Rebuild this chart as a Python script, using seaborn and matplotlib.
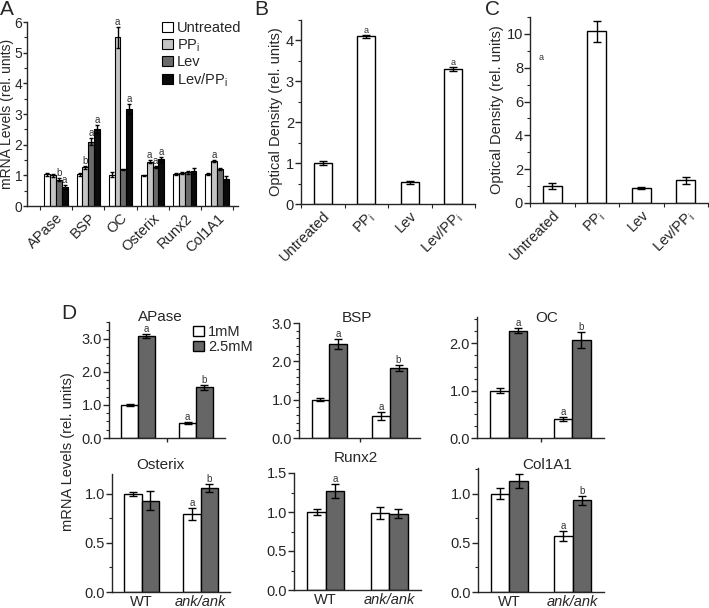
import matplotlib
matplotlib.use("Agg")
import matplotlib.pyplot as plt
from matplotlib.container import BarContainer
from matplotlib.ticker import MultipleLocator, FixedLocator
import seaborn as sns
import pandas as pd

# ---- panel A: mRNA levels per gene and treatment
genes_a = ["APase", "BSP", "OC", "Osterix", "Runx2", "Col1A1"]
treatments = ["Untreated", "PP$_\\mathregular{i}$", "Lev", "Lev/PP$_\\mathregular{i}$"]
a_untreated = [1.03, 1.03, 1.02, 1.0, 1.03, 1.03]
a_ppi = [1.0, 1.27, 5.5, 1.45, 1.08, 1.47]
a_lev = [0.85, 2.1, 1.2, 1.28, 1.1, 1.2]
a_levppi = [0.62, 2.5, 3.17, 1.53, 1.13, 0.88]
a_err_untreated = [0.04, 0.04, 0.08, 0.02, 0.03, 0.03]
a_err_ppi = [0.05, 0.05, 0.35, 0.06, 0.03, 0.04]
a_err_lev = [0.05, 0.12, 0.02, 0.04, 0.05, 0.03]
a_err_levppi = [0.07, 0.13, 0.17, 0.08, 0.10, 0.10]
a_sig_untreated = ["", "", "", "", "", ""]
a_sig_ppi = ["", "b", "a", "a", "", "a"]
a_sig_lev = ["b", "a", "", "a", "", ""]
a_sig_levppi = ["a", "a", "a", "a", "", ""]

# ---- panels B and C: optical density
od_labels = ["Untreated", "PP$_\\mathregular{i}$", "Lev", "Lev/PP$_\\mathregular{i}$"]
b_values = [1.0, 4.1, 0.53, 3.3]
b_errors = [0.05, 0.04, 0.03, 0.05]
b_sig = ["", "a", "", "a"]
c_values = [1.0, 10.15, 0.88, 1.35]
c_errors = [0.2, 0.6, 0.05, 0.2]

# ---- panel D: WT vs ank/ank, 1mM vs 2.5mM
genotypes = ["WT", "ank/ank"]
doses = ["1mM", "2.5mM"]
d_genes = ["APase", "BSP", "OC", "Osterix", "Runx2", "Col1A1"]
d_1mm = [[1.0, 0.45], [1.0, 0.57], [1.0, 0.4], [1.0, 0.79], [1.0, 0.99], [1.0, 0.57]]
d_25mm = [[3.09, 1.53], [2.45, 1.83], [2.26, 2.06], [0.93, 1.06], [1.27, 0.98], [1.13, 0.93]]
d_1mm_err = [[0.04, 0.03], [0.04, 0.1], [0.05, 0.04], [0.02, 0.06], [0.04, 0.08], [0.06, 0.05]]
d_25mm_err = [[0.06, 0.07], [0.12, 0.07], [0.05, 0.17], [0.1, 0.04], [0.09, 0.06], [0.07, 0.05]]
d_1mm_sig = [["", "a"], ["", "a"], ["", "a"], ["", "a"], ["", ""], ["", "a"]]
d_25mm_sig = [["a", "b"], ["a", "b"], ["a", "b"], ["", "b"], ["a", ""], ["", "b"]]

sns.set_style("ticks")
plt.rcParams["font.family"] = ["Liberation Sans", "DejaVu Sans"]
plt.rcParams["axes.linewidth"] = 1.0
plt.rcParams["xtick.major.width"] = 1.0
plt.rcParams["ytick.major.width"] = 1.0
plt.rcParams["xtick.minor.width"] = 0.8
plt.rcParams["ytick.minor.width"] = 0.8
plt.rcParams["ytick.major.size"] = 4
plt.rcParams["ytick.minor.size"] = 2.5
plt.rcParams["xtick.major.size"] = 3
plt.rcParams["xtick.minor.size"] = 3

W, H = 709, 608
fig = plt.figure(figsize=(W / 100, H / 100), dpi=100)


def px_axes(left, right, top, bottom):
    return fig.add_axes([left / W, 1 - bottom / H, (right - left) / W, (bottom - top) / H])


def add_errors(ax, errs, sigs, cap=2.0, fs=6):
    bars = [c for c in ax.containers if isinstance(c, BarContainer)]
    for cont, err_row, sig_row in zip(bars, errs, sigs):
        for bar, e, s in zip(cont, err_row, sig_row):
            x = bar.get_x() + bar.get_width() / 2
            h = bar.get_height()
            ax.errorbar(x, h, yerr=e, color="black", capsize=cap,
                        elinewidth=1.0, capthick=1.0, fmt="none")
            if s:
                ax.text(x, h + e, s, ha="center", va="bottom", fontsize=fs, color="#333333")


# ================= A
ax_a = px_axes(27, 238, 22, 206)
vals_a = [a_untreated, a_ppi, a_lev, a_levppi]
df_a = pd.DataFrame({
    "gene": genes_a * 4,
    "treatment": [t for t in treatments for _ in genes_a],
    "value": [v for row in vals_a for v in row],
})
pal_a = dict(zip(treatments, ["white", "#c4c4c4", "#6a6a6a", "#0a0a0a"]))
sns.barplot(data=df_a, x="gene", y="value", hue="treatment", order=genes_a,
            hue_order=treatments, palette=pal_a, edgecolor="black", linewidth=0.8,
            width=0.72, errorbar=None, ax=ax_a)
add_errors(ax_a, [a_err_untreated, a_err_ppi, a_err_lev, a_err_levppi],
           [a_sig_untreated, a_sig_ppi, a_sig_lev, a_sig_levppi], cap=1.6, fs=7)
ax_a.set_xlim(-0.9, 5.65)
ax_a.set_ylim(0, 6)
ax_a.yaxis.set_major_locator(MultipleLocator(1))
ax_a.yaxis.set_minor_locator(MultipleLocator(0.5))
ax_a.xaxis.set_minor_locator(FixedLocator([-0.5, 0.5, 1.5, 2.5, 3.5, 4.5, 5.5]))
ax_a.tick_params(axis="x", which="major", length=0, labelsize=10.5)
ax_a.tick_params(axis="y", which="major", length=3, labelsize=10, pad=0.5)
ax_a.tick_params(axis="y", which="minor", length=2)
plt.setp(ax_a.get_xticklabels(), rotation=45, ha="right", rotation_mode="anchor")
ax_a.set_xlabel("")
ax_a.set_ylabel("mRNA Levels (rel. units)", fontsize=10)
ax_a.yaxis.set_label_coords(-0.06, 0.5)
sns.move_legend(ax_a, "upper left", bbox_to_anchor=(155 / W, 1 - 14 / H),
                bbox_transform=fig.transFigure, frameon=False, title=None,
                handlelength=0.7, handleheight=0.7, handletextpad=0.3,
                labelspacing=0.12, fontsize=10.5, borderpad=0)
sns.despine(ax=ax_a)


# ================= B and C
def od_panel(ax, values, errors, sigs, ymax, major, minor):
    sns.barplot(x=od_labels, y=values, color="white", edgecolor="black",
                linewidth=1.0, width=0.42, errorbar=None, ax=ax)
    add_errors(ax, [errors], [sigs], cap=3, fs=6.5)
    ax.set_xlim(-0.5, 3.5)
    ax.set_ylim(0, ymax)
    ax.yaxis.set_major_locator(MultipleLocator(major))
    ax.yaxis.set_minor_locator(MultipleLocator(minor))
    ax.xaxis.set_minor_locator(FixedLocator([-0.5, 0.5, 1.5, 2.5, 3.5]))
    ax.tick_params(axis="x", which="major", length=0, labelsize=10.5)
    ax.tick_params(axis="y", labelsize=10.5, pad=1)
    plt.setp(ax.get_xticklabels(), rotation=45, ha="right", rotation_mode="anchor")
    ax.set_ylabel("Optical Density (rel. units)", fontsize=10.5, labelpad=2)
    sns.despine(ax=ax)


ax_b = px_axes(301, 475, 20, 204)
od_panel(ax_b, b_values, b_errors, b_sig, 4.5, 1, 0.5)
ax_c = px_axes(530, 708, 17, 203)
od_panel(ax_c, c_values, c_errors, ["", "", "", ""], 11, 2, 1)
ax_c.text(-0.24, 8.6, "a", ha="center", va="center", fontsize=6.5, color="#333333")

# ================= D
d_boxes = [(109, 225, 322, 438), (299, 420, 323, 438), (477, 604, 317, 438),
           (112, 230, 474, 592), (294, 421, 473, 590), (478, 604, 468, 592)]
d_ylims = [3.5, 3.0, 2.55, 1.2, 1.5, 1.26]
d_major = [1.0, 1.0, 1.0, 0.5, 0.5, 0.5]
d_minor = [0.25, 0.2, 0.25, 0.25, 0.25, 0.25]
d_title_xy = [(160, 317), (357, 318), (547, 318), (160, 465), (356, 458), (547, 465)]
pal_d = dict(zip(doses, ["white", "#666666"]))

for i, gene in enumerate(d_genes):
    ax = px_axes(*d_boxes[i])
    df = pd.DataFrame({
        "genotype": genotypes * 2,
        "dose": [d for d in doses for _ in genotypes],
        "value": d_1mm[i] + d_25mm[i],
    })
    sns.barplot(data=df, x="genotype", y="value", hue="dose", order=genotypes,
                hue_order=doses, palette=pal_d, edgecolor="black", linewidth=1.0,
                width=0.58, errorbar=None, ax=ax, legend=(i == 0))
    add_errors(ax, [d_1mm_err[i], d_25mm_err[i]], [d_1mm_sig[i], d_25mm_sig[i]],
               cap=3, fs=7)
    ax.set_xlim(-0.5, 1.5)
    ax.set_ylim(0, d_ylims[i])
    ax.yaxis.set_major_locator(MultipleLocator(d_major[i]))
    ax.yaxis.set_minor_locator(MultipleLocator(d_minor[i]))
    ax.yaxis.set_major_formatter(matplotlib.ticker.FormatStrFormatter("%.1f"))
    ax.tick_params(axis="y", labelsize=10.5, pad=1)
    ax.set_xlabel("")
    ax.set_ylabel("")
    if i < 3:
        ax.xaxis.set_major_locator(FixedLocator([0.5]))
        ax.set_xticklabels([""])
    else:
        ax.tick_params(axis="x", which="major", length=0, labelsize=10.5, pad=2)
        ax.get_xticklabels()[1].set_fontstyle("italic")
    tx, ty = d_title_xy[i]
    fig.text(tx / W, 1 - ty / H, gene, ha="center", va="center", fontsize=11)
    sns.despine(ax=ax)
    if i == 0:
        sns.move_legend(ax, "upper left", bbox_to_anchor=(186 / W, 1 - 318 / H),
                        bbox_transform=fig.transFigure, frameon=False, title=None,
                        handlelength=0.7, handleheight=0.7, handletextpad=0.3,
                        labelspacing=0.05, fontsize=10.5, borderpad=0)

fig.text(68 / W, 1 - 452 / H, "mRNA Levels (rel. units)", rotation=90,
         ha="center", va="center", fontsize=10.5)

# panel letters
for letter, (lx, ly) in zip("ABCD", [(0, 0), (254, 0), (485, 0), (61, 304)]):
    fig.text(lx / W, 1 - ly / H, letter, ha="left", va="top", fontsize=15)

fig.savefig("out.png", dpi=100)
